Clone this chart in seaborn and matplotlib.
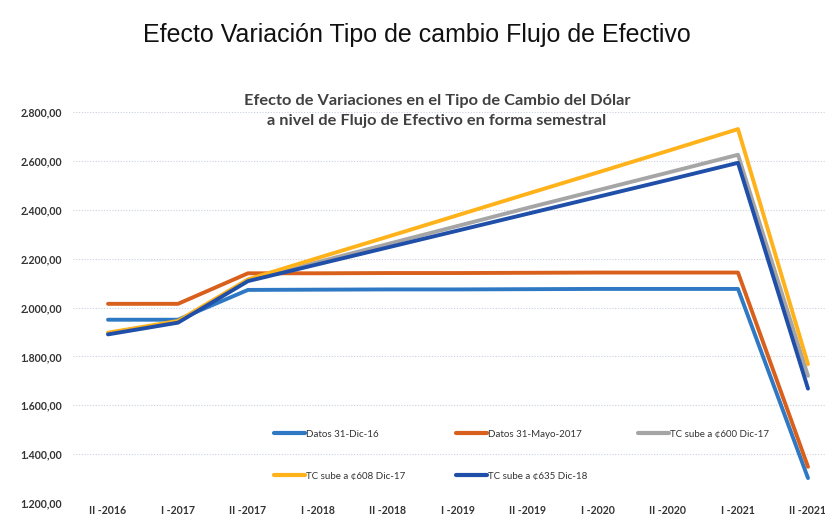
"""
Efecto Variacion Tipo de cambio - Flujo de Efectivo (semestral)
"""

import pandas as pd
import seaborn as sns
import matplotlib.pyplot as plt
from matplotlib.ticker import FuncFormatter

# Periods (semesters)
periodos = ['II -2016', 'I -2017', 'II -2017', 'I -2018', 'II -2018', 'I -2019',
            'II -2019', 'I -2020', 'II -2020', 'I -2021', 'II -2021']

# Series values
datos_dic16 = [1950, 1950, 2072, 2073, 2074, 2074, 2075, 2076, 2076, 2076, 1302]
datos_may17 = [2015, 2015, 2140, 2140, 2141, 2141, 2142, 2143, 2143, 2143, 1348]
tc_600 = [1895, 1942, 2112, 2186, 2260, 2334, 2408, 2480, 2552, 2625, 1720]
tc_608 = [1897, 1945, 2115, 2203, 2290, 2378, 2466, 2553, 2641, 2730, 1768]
tc_635 = [1890, 1938, 2108, 2177, 2246, 2315, 2384, 2453, 2522, 2592, 1668]

series_names = ['Datos 31-Dic-16', 'Datos 31-Mayo-2017', 'TC sube a ¢600 Dic-17',
                'TC sube a ¢608 Dic-17', 'TC sube a ¢635 Dic-18']
colors = ['#2E78C4', '#D9601C', '#A5A5A5', '#FFB21A', '#1F4FA8']

df = pd.DataFrame({
    'periodo': periodos * 5,
    'idx': list(range(len(periodos))) * 5,
    'valor': datos_dic16 + datos_may17 + tc_600 + tc_608 + tc_635,
    'serie': sum([[n] * len(periodos) for n in series_names], []),
})

sns.set_theme(style='white')
plt.rcParams['font.family'] = ['Lato', 'DejaVu Sans']

fig = plt.figure(figsize=(8.25, 5.2), dpi=100)
W, H = 825, 520
# axes: x from 73 px to 843 px, y from 112 px (2800) to 503 px (1200)
ax = fig.add_axes([73 / W, (H - 503) / H, 770 / W, (503 - 112) / H])

sns.lineplot(data=df, x='idx', y='valor', hue='serie', hue_order=series_names,
             palette=colors, linewidth=2.8, ax=ax, legend=True, sort=False)

ax.set_xlim(-0.5, 10.5)
ax.set_ylim(1200, 2800)
ax.set_yticks(range(1200, 2801, 200))
ax.yaxis.set_major_formatter(FuncFormatter(
    lambda v, p: f'{v:,.2f}'.replace(',', 'X').replace('.', ',').replace('X', '.')))
ax.set_xticks(range(len(periodos)))
ax.set_xticklabels(periodos)
ax.tick_params(axis='both', length=0, labelsize=7.6, colors='#333333')
ax.tick_params(axis='x', pad=1.5)
ax.tick_params(axis='y', pad=8)
for lbl in ax.get_xticklabels() + ax.get_yticklabels():
    lbl.set_fontweight('bold')
ax.set_xlabel('')
ax.set_ylabel('')
ax.grid(axis='y', color='#C8D0DC', linestyle=(0, (1, 1.5)), linewidth=0.8)
ax.grid(axis='x', visible=False)
for s in ax.spines.values():
    s.set_visible(False)

# legend in row-major order
handles, labels = ax.get_legend_handles_labels()
order = [0, 3, 1, 4, 2]
leg = ax.legend([handles[i] for i in order], [labels[i] for i in order],
                ncol=3, frameon=False, fontsize=7, handlelength=3.2,
                handletextpad=0.1, labelspacing=3.4, columnspacing=5.2,
                loc='upper left', bbox_to_anchor=(0.25, 0.21))
for line in leg.get_lines():
    line.set_linewidth(3)
for t in leg.get_texts():
    t.set_color('#333333')

# titles
fig.text(417 / W, 1 - 35 / H, 'Efecto Variación Tipo de cambio Flujo de Efectivo',
         ha='center', va='center', fontsize=18, family='Liberation Sans', color='#111111')
fig.text(437 / W, 1 - 111 / H,
         'Efecto de Variaciones en el Tipo de Cambio del Dólar\na nivel de Flujo de Efectivo en forma semestral',
         ha='center', va='center', fontsize=11.8, fontweight='bold', color='#404040',
         linespacing=1.5)

fig.savefig('out.png', dpi=100)
